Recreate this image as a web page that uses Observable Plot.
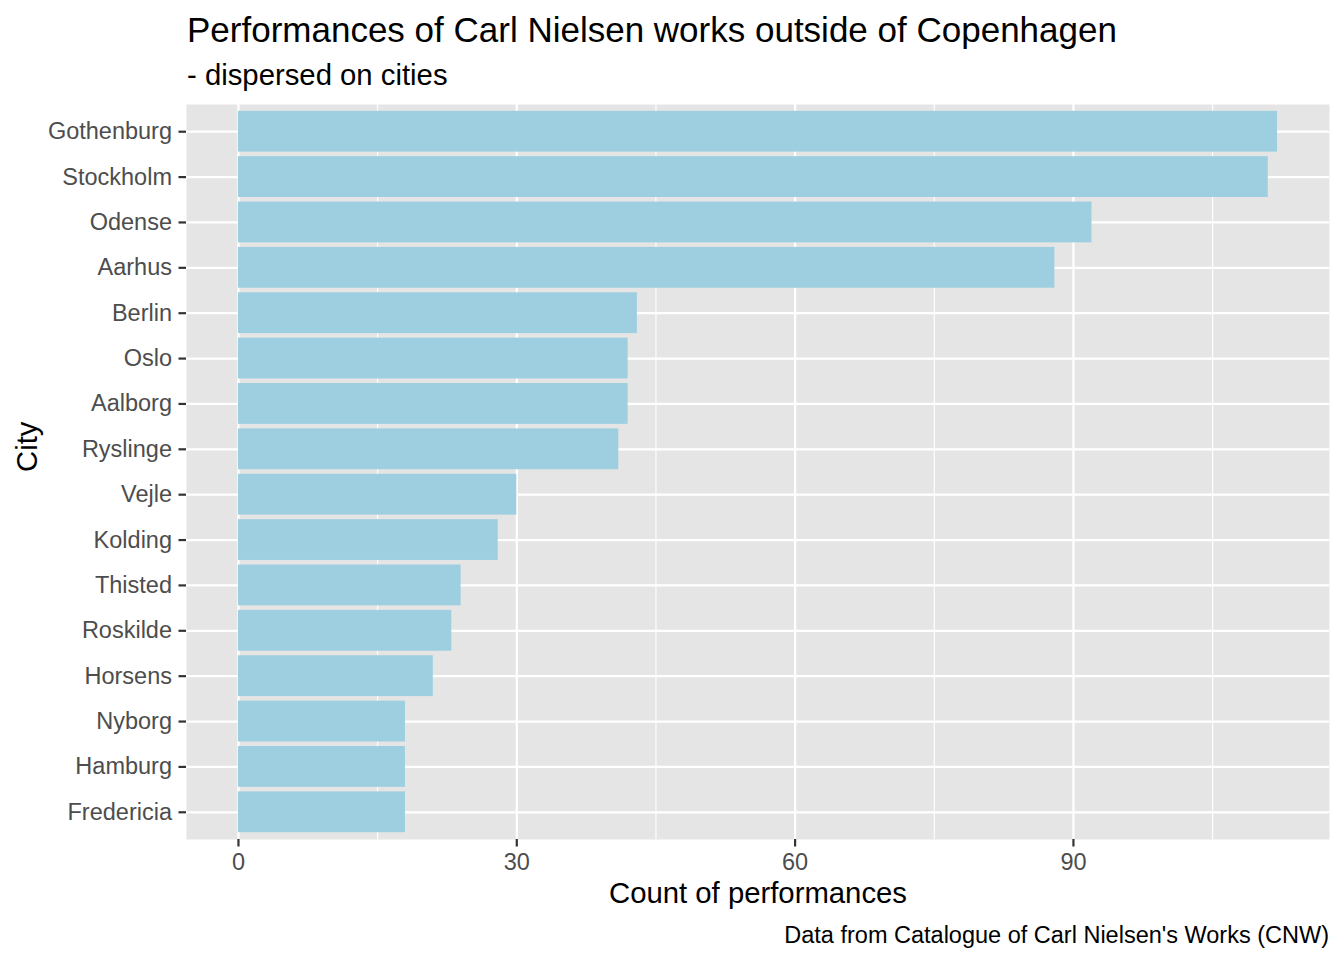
<!DOCTYPE html>
<html>
<head>
<meta charset="utf-8">
<script src="https://cdn.jsdelivr.net/npm/d3@7"></script>
<script src="https://cdn.jsdelivr.net/npm/@observablehq/plot@0.6"></script>
<style>
  body { margin: 0; background: #fff; font-family: "Liberation Sans", Arial, Helvetica, sans-serif; }
  #wrap { position: relative; width: 1344px; height: 960px; }
  .t { position: absolute; white-space: nowrap; line-height: 1; color: #000; }
  #title { left: 187px; top: 12px; font-size: 35px; }
  #subtitle { left: 187px; top: 59.5px; font-size: 29.3px; }
  #caption { right: 15px; top: 923.5px; font-size: 23.5px; }
  #chart { position: absolute; left: 0; top: 0; }
</style>
</head>
<body>
<div id="wrap">
  <div id="chart"></div>
  <div class="t" id="title">Performances of Carl Nielsen works outside of Copenhagen</div>
  <div class="t" id="subtitle">- dispersed on cities</div>
  <div class="t" id="caption">Data from Catalogue of Carl Nielsen's Works (CNW)</div>
</div>
<script>
const cities = ["Gothenburg","Stockholm","Odense","Aarhus","Berlin","Oslo","Aalborg","Ryslinge","Vejle","Kolding","Thisted","Roskilde","Horsens","Nyborg","Hamburg","Fredericia"];
const counts = [112, 111, 92, 88, 43, 42, 42, 41, 30, 28, 24, 23, 21, 18, 18, 18];
const xTicks = [0, 30, 60, 90];
const xMinor = [15, 45, 75, 105];

const data = cities.map((c, i) => ({city: c, count: counts[i]}));
const maxV = d3.max(counts);

const chart = Plot.plot({
  width: 1344,
  height: 960,
  marginLeft: 186,
  marginRight: 15,
  marginTop: 104,
  marginBottom: 121,
  style: {fontFamily: '"Liberation Sans", Arial, Helvetica, sans-serif', background: "transparent"},
  x: {domain: [-0.05 * maxV, maxV * 1.05]},
  y: {domain: cities, paddingInner: 0.1, paddingOuter: 0.15, round: false},
  marks: [
    Plot.frame({fill: "#e5e5e5", stroke: null}),
    Plot.ruleX(xMinor, {stroke: "white", strokeWidth: 1.1}),
    Plot.ruleX(xTicks, {stroke: "white", strokeWidth: 2.2}),
    Plot.gridY({stroke: "white", strokeOpacity: 1, strokeWidth: 2.2}),
    Plot.barX(data, {x: "count", y: "city", fill: "#9ecfe0"}),
    Plot.axisX({ticks: xTicks, tickSize: 7.5, tickPadding: 6, stroke: "#333333", strokeWidth: 2.2, fill: "#4d4d4d", fontSize: 23.5, label: null}),
    Plot.axisY({tickSize: 7.5, tickPadding: 7, stroke: "#333333", strokeWidth: 2.2, fill: "#4d4d4d", fontSize: 23.5, label: null}),
    Plot.text(["Count of performances"], {frameAnchor: "bottom", lineAnchor: "middle", dy: 54, fontSize: 29.3, fill: "#000"}),
    Plot.text(["City"], {frameAnchor: "left", lineAnchor: "middle", dx: -159, rotate: -90, fontSize: 29.3, fill: "#000"})
  ]
});
document.getElementById("chart").appendChild(chart);
</script>
</body>
</html>
